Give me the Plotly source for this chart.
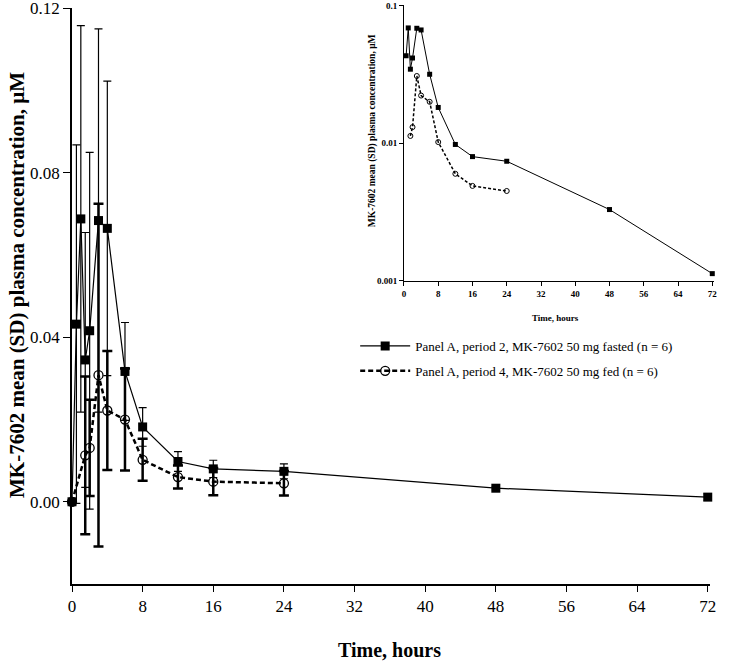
import plotly.graph_objects as go

# ---- data ----
t_fasted = [0, 0.5, 1, 1.5, 2, 3, 4, 6, 8, 12, 16, 24, 48, 72]
c_fasted = [0.0, 0.0432, 0.0688, 0.0345, 0.0416, 0.0684, 0.0665, 0.0317, 0.0182, 0.0098, 0.0080, 0.0074, 0.0033, 0.00113]
sd_fasted = [0.0, 0.0436, 0.047, 0.031, 0.0434, 0.0466, 0.0358, 0.0119, 0.0047, 0.0024, 0.0021, 0.0018, 0.0004, 0.0008]

t_fed = [0, 1.5, 2, 3, 4, 6, 8, 12, 16, 24]
c_fed = [0.0, 0.0113, 0.0131, 0.0308, 0.0222, 0.0200, 0.0102, 0.0060, 0.0049, 0.0045]
sd_fed = [0.0, 0.0192, 0.0117, 0.0417, 0.0145, 0.0124, 0.0051, 0.0028, 0.0033, 0.0030]

x_ticks = [0, 8, 16, 24, 32, 40, 48, 56, 64, 72]
y_ticks = [0, 0.04, 0.08, 0.12]
y_ticklabels = ["0.00", "0.04", "0.08", "0.12"]
log_ticks = [0.001, 0.01, 0.1]
log_ticklabels = ["0.001", "0.01", "0.1"]

name_fasted = "Panel A, period 2, MK-7602 50 mg fasted (n = 6)"
name_fed = "Panel A, period 4, MK-7602 50 mg fed (n = 6)"

SERIF = "Liberation Serif"

fig = go.Figure()

# main panel
fig.add_trace(go.Scatter(
    x=t_fasted, y=c_fasted, name=name_fasted, mode="lines+markers", legendgroup="a",
    line=dict(color="black", width=1.2),
    marker=dict(symbol="square", size=9, color="black"),
    error_y=dict(type="data", array=sd_fasted, visible=True, color="black", thickness=1.2, width=4),
    cliponaxis=False, xaxis="x", yaxis="y"))
fig.add_trace(go.Scatter(
    x=t_fed, y=c_fed, name=name_fed, mode="lines+markers", legendgroup="b",
    line=dict(color="black", width=2.5, dash="5px,3px"),
    marker=dict(symbol="circle-open", size=9, color="black", line=dict(width=1.3)),
    error_y=dict(type="data", array=sd_fed, visible=True, color="black", thickness=2.5, width=5),
    cliponaxis=False, xaxis="x", yaxis="y"))

# inset (log scale)
fig.add_trace(go.Scatter(
    x=t_fasted[1:], y=c_fasted[1:], mode="lines+markers", showlegend=False,
    line=dict(color="black", width=1),
    marker=dict(symbol="square", size=5, color="black"),
    cliponaxis=False, xaxis="x2", yaxis="y2"))
fig.add_trace(go.Scatter(
    x=t_fed[1:], y=c_fed[1:], mode="lines+markers", showlegend=False,
    line=dict(color="black", width=1.5, dash="3px,2px"),
    marker=dict(symbol="circle-open", size=5, color="black", line=dict(width=1)),
    cliponaxis=False, xaxis="x2", yaxis="y2"))

axis_common = dict(showline=True, linecolor="black", showgrid=False, zeroline=False,
                   ticks="outside", tickcolor="black", ticklabeloverflow="allow",
                   automargin=False)

fig.update_layout(
    width=736, height=662,
    margin=dict(l=72, r=10, t=3, b=78, autoexpand=False),
    paper_bgcolor="white", plot_bgcolor="white",
    font=dict(family=SERIF, color="black"),
    xaxis=dict(domain=[0, 0.9748], range=[0, 72.2], tickvals=x_ticks, anchor="y",
               linewidth=1.5, ticklen=6, tickwidth=1.2,
               tickfont=dict(family=SERIF, size=17), **axis_common),
    yaxis=dict(domain=[0, 0.9914], range=[-0.02, 0.1201], tickvals=y_ticks, ticktext=y_ticklabels,
               anchor="x", linewidth=1.5, ticklen=7, tickwidth=1.2,
               tickfont=dict(family=SERIF, size=17), **axis_common),
    xaxis2=dict(domain=[0.5076, 0.9823], range=[0, 72.5], tickvals=x_ticks, anchor="y2",
                linewidth=1, ticklen=4, tickwidth=1,
                tickfont=dict(family=SERIF, size=9, weight="bold"), **axis_common),
    yaxis2=dict(domain=[0.5215, 0.9957], type="log", range=[-3.0005, -0.9995], tickvals=log_ticks,
                ticktext=log_ticklabels, anchor="x2", linewidth=1, ticklen=4, tickwidth=1,
                tickfont=dict(family=SERIF, size=9, weight="bold"), **axis_common),
    legend=dict(x=0.433, y=0.4355, xanchor="left", yanchor="top",
                font=dict(family=SERIF, size=13), bgcolor="rgba(0,0,0,0)",
                traceorder="grouped", tracegroupgap=5, itemwidth=50),
    showlegend=True,
)

fig.add_annotation(text="<b>MK-7602 mean (SD) plasma concentration, μM</b>", textangle=-90,
                   xref="paper", yref="paper", x=-0.0841, y=0.5146, showarrow=False,
                   xanchor="center", yanchor="middle",
                   font=dict(family=SERIF, size=21))
fig.add_annotation(text="<b>Time, hours</b>", xref="paper", yref="paper", x=0.486, y=-0.1136,
                   xanchor="center", yanchor="middle",
                   showarrow=False, font=dict(family=SERIF, size=20))
fig.add_annotation(text="<b>MK-7602 mean (SD) plasma concentration, μM</b>", textangle=-90,
                   xref="paper", yref="paper", x=0.4587, y=0.781, showarrow=False,
                   xanchor="center", yanchor="middle",
                   font=dict(family=SERIF, size=9.5))
fig.add_annotation(text="<b>Time, hours</b>", xref="paper", yref="paper", x=0.740, y=0.4578,
                   xanchor="center", yanchor="middle",
                   showarrow=False, font=dict(family=SERIF, size=9))

fig.write_html("out.html")
